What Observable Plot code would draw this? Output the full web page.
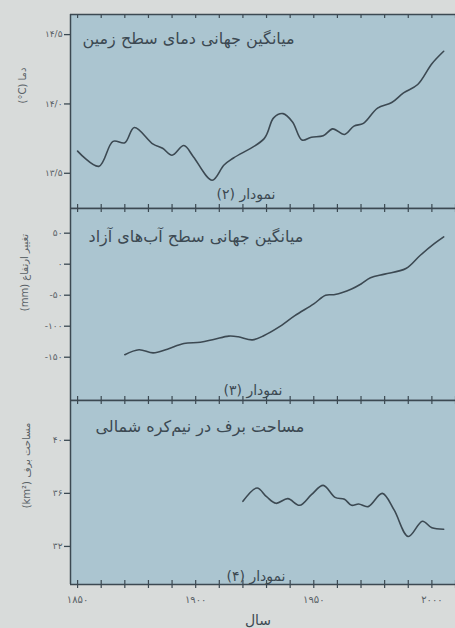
<!DOCTYPE html>
<html>
<head>
<meta charset="utf-8">
<script src="https://cdn.jsdelivr.net/npm/d3@7"></script>
<script src="https://cdn.jsdelivr.net/npm/@observablehq/plot@0.6"></script>
<style>
  html, body { margin: 0; padding: 0; background: #d8dbda; }
  #chart { width: 455px; height: 628px; overflow: hidden; }
  #chart svg { display: block; }
</style>
</head>
<body>
<div id="chart"></div>
<script>
// ---- data ----
const tempYears  = [1850, 1859, 1865, 1870, 1874, 1882, 1886, 1890, 1895, 1899, 1907, 1912, 1916, 1929, 1933, 1937, 1941, 1945, 1949, 1954, 1958, 1963, 1967, 1971, 1977, 1983, 1988, 1994, 2000, 2005];
const tempValues = [13.66, 13.55, 13.73, 13.72, 13.83, 13.71, 13.68, 13.63, 13.70, 13.62, 13.45, 13.56, 13.61, 13.75, 13.90, 13.93, 13.87, 13.74, 13.76, 13.77, 13.82, 13.78, 13.84, 13.86, 13.97, 14.01, 14.08, 14.14, 14.29, 14.38];

const seaYears  = [1870, 1876, 1882, 1888, 1895, 1902, 1908, 1914, 1918, 1924, 1929, 1935, 1942, 1950, 1955, 1959, 1966, 1970, 1974, 1980, 1989, 1995, 2001, 2005];
const seaValues = [-146, -138, -143, -137, -128, -126, -121, -116, -117, -122, -115, -102, -83, -64, -50, -49, -40, -32, -22, -16, -7, 14, 33, 44];

const snowYears  = [1920, 1926, 1930, 1934, 1939, 1944, 1949, 1954, 1959, 1963, 1966, 1969, 1973, 1979, 1984, 1990, 1996, 2000, 2005];
const snowValues = [35.4, 36.4, 35.75, 35.25, 35.6, 35.1, 35.9, 36.6, 35.7, 35.55, 35.1, 35.2, 35.0, 36.0, 34.75, 32.75, 33.9, 33.4, 33.3];

const tempTicks  = [13.5, 14.0, 14.5];
const tempLabels = ["۱۳/۵", "۱۴/۰", "۱۴/۵"];
const seaTicks   = [50, 0, -50, -100, -150];
const seaLabels  = ["۵۰", "۰", "-۵۰", "-۱۰۰", "-۱۵۰"];
const snowTicks  = [40, 36, 32];
const snowLabels = ["۴۰", "۳۶", "۳۲"];

const decadeTicks = [1850, 1860, 1870, 1880, 1890, 1900, 1910, 1920, 1930, 1940, 1950, 1960, 1970, 1980, 1990, 2000, 2010];
const yearLabelTicks = [1850, 1900, 1950, 2000];
const yearLabels = ["۱۸۵۰", "۱۹۰۰", "۱۹۵۰", "۲۰۰۰"];

const panelTitles = ["میانگین جهانی دمای سطح زمین", "میانگین جهانی سطح آب‌های آزاد", "مساحت برف در نیم‌کره شمالی"];
const panelCaptions = ["(۲) نمودار", "(۳) نمودار", "(۴) نمودار"];
const yTitles = ["(°C) دما", "(mm) تغییر ارتفاع", "(km²) مساحت برف"];
const xTitle = "سال";

// ---- styling ----
const blue = "#abc5d0";
const ink = "#3c4952";
const labelInk = "#596166";
const W = 455, ML = 70;
const xDomain = [1847, 2010];
const font = "'DejaVu Sans', 'Noto Sans', sans-serif";

const toRows = (xs, ys) => xs.map((year, i) => ({year, value: ys[i]}));
const fmt = (ticks, labels) => d => labels[ticks.indexOf(d)];

function panel({height, marginTop = 0, marginBottom = 0, yDomain, ticks, labels, rows,
                title, titleDx, titleDy, caption, captionDx, captionDy, yTitle, yTitleDx, yTitleDy, extra = []}) {
  const innerH = height - marginTop - marginBottom;
  return Plot.plot({
    width: W, height, marginTop, marginBottom, marginLeft: ML, marginRight: 0,
    style: {background: "transparent", overflow: "visible", fontFamily: font},
    x: {domain: xDomain, axis: null},
    y: {domain: yDomain, axis: null},
    marks: [
      Plot.frame({fill: blue, stroke: null}),
      Plot.ruleX([xDomain[0]], {stroke: ink, strokeWidth: 1.5}),
      Plot.ruleY([yDomain[0], yDomain[1]], {stroke: ink, strokeWidth: 1.5}),
      Plot.ruleX(decadeTicks, {stroke: ink, strokeWidth: 1.2, insetTop: innerH - 4}),
      Plot.ruleX(decadeTicks, {stroke: ink, strokeWidth: 1.2, insetBottom: innerH - 4}),
      Plot.axisY({ticks, tickFormat: fmt(ticks, labels), tickSize: 6, tickPadding: 2,
                  fontSize: 9, color: labelInk, stroke: ink, strokeWidth: 1.3, label: null}),
      Plot.line(rows, {x: "year", y: "value", curve: "catmull-rom", stroke: ink, strokeWidth: 1.6}),
      Plot.text([title], {frameAnchor: "top-left", dx: titleDx, dy: titleDy, lineAnchor: "middle",
                          textAnchor: "start", fontSize: 16, fill: ink}),
      Plot.text([caption], {frameAnchor: "bottom", dx: captionDx, dy: captionDy, lineAnchor: "middle",
                            textAnchor: "middle", fontSize: 14, fill: ink}),
      Plot.text([yTitle], {frameAnchor: "left", dx: yTitleDx, dy: yTitleDy, rotate: -90,
                           textAnchor: "middle", lineAnchor: "middle", fontSize: 10, fill: labelInk}),
      ...extra
    ]
  });
}

const chart = document.getElementById("chart");

chart.append(panel({
  height: 208, marginTop: 14, yDomain: [13.246, 14.645],
  ticks: tempTicks, labels: tempLabels, rows: toRows(tempYears, tempValues),
  title: panelTitles[0], titleDx: 12, titleDy: 24,
  caption: panelCaptions[0], captionDx: -17, captionDy: -14,
  yTitle: yTitles[0], yTitleDx: -48, yTitleDy: -26
}));

chart.append(panel({
  height: 192, yDomain: [-219.8, 89.8],
  ticks: seaTicks, labels: seaLabels, rows: toRows(seaYears, seaValues),
  title: panelTitles[1], titleDx: 18, titleDy: 28,
  caption: panelCaptions[1], captionDx: -10, captionDy: -10,
  yTitle: yTitles[1], yTitleDx: -46, yTitleDy: -32
}));

chart.append(panel({
  height: 228, marginBottom: 44, yDomain: [29.13, 43.0],
  ticks: snowTicks, labels: snowLabels, rows: toRows(snowYears, snowValues),
  title: panelTitles[2], titleDx: 25, titleDy: 26,
  caption: panelCaptions[2], captionDx: -7, captionDy: -8,
  yTitle: yTitles[2], yTitleDx: -44, yTitleDy: -27,
  extra: [
    Plot.axisX({anchor: "bottom", ticks: decadeTicks, tickSize: 4, tickFormat: () => "",
                stroke: ink, strokeWidth: 1.2, label: null}),
    Plot.axisX({anchor: "bottom", ticks: yearLabelTicks, tickSize: 0, tickPadding: 11,
                tickFormat: fmt(yearLabelTicks, yearLabels), fontSize: 10, color: labelInk, label: null}),
    Plot.text([xTitle], {frameAnchor: "bottom", dx: -5, dy: 36, lineAnchor: "middle",
                         textAnchor: "middle", fontSize: 14, fill: ink})
  ]
}));
</script>
</body>
</html>
